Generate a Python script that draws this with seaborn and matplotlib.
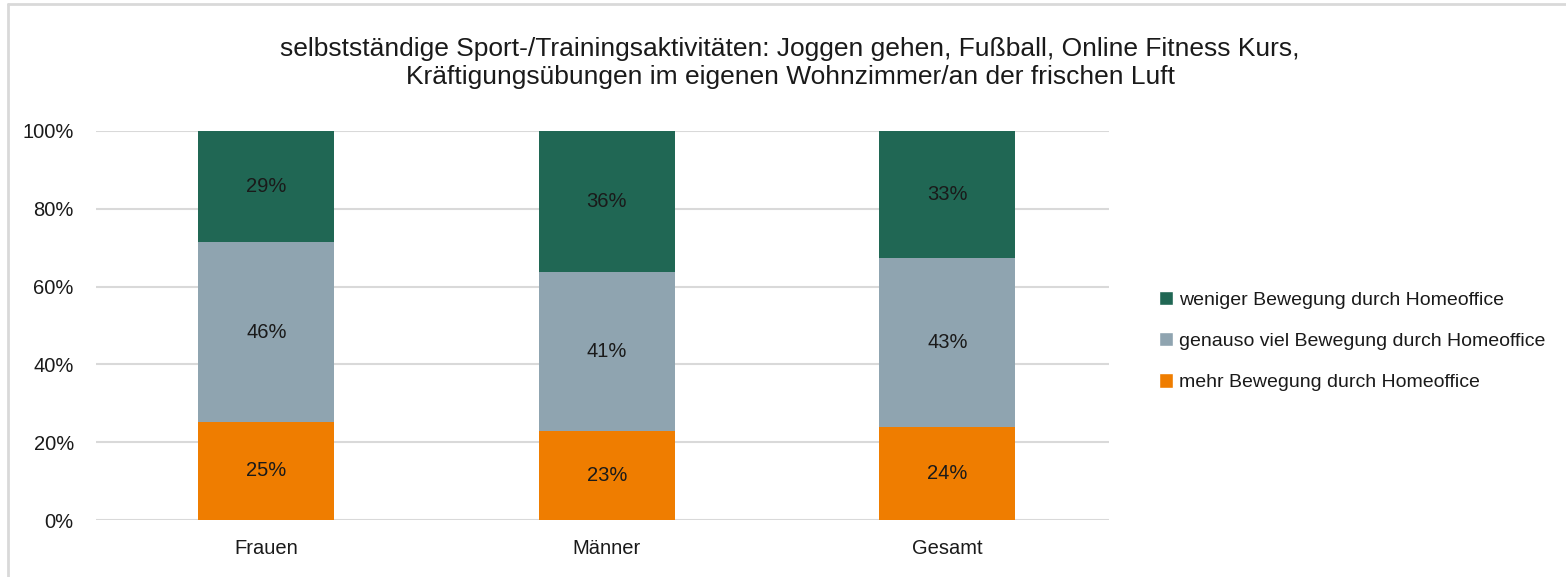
import numpy as np
import pandas as pd
import matplotlib
matplotlib.use("Agg")
import matplotlib.pyplot as plt
import seaborn as sns
from matplotlib.lines import Line2D
from matplotlib.patches import Patch

# Daten (Anteile in %)
gruppen = ["Frauen", "Männer", "Gesamt"]
mehr = [25.2, 22.9, 23.9]
genauso = [46.2, 40.9, 43.4]
weniger = [28.6, 36.2, 32.7]

serien = ["mehr Bewegung durch Homeoffice",
          "genauso viel Bewegung durch Homeoffice",
          "weniger Bewegung durch Homeoffice"]
farben = ["#EF7D00", "#8FA4B0", "#206754"]

df = pd.DataFrame({"gruppe": gruppen, serien[0]: mehr,
                   serien[1]: genauso, serien[2]: weniger})

sns.set_style("white")
plt.rcParams["font.family"] = ["Liberation Sans", "DejaVu Sans"]

fig = plt.figure(figsize=(15.66, 5.77), dpi=100)
ax = fig.add_axes([96 / 1566, 1 - 520 / 577, (1109 - 96) / 1566, (520 - 131) / 577])

unten = np.zeros(len(gruppen))
for s, c in zip(serien, farben):
    sns.barplot(data=df, x="gruppe", y=s, bottom=unten, color=c, width=0.4,
                saturation=1, ax=ax, zorder=3, linewidth=0)
    for i, v in enumerate(df[s]):
        ax.text(i, unten[i] + v / 2, f"{v:.0f}%", ha="center", va="center",
                fontsize=14.5, color="#1a1a1a", zorder=4)
    unten = unten + df[s].values

ax.set_ylim(0, 100)
ax.set_xlim(-0.5, 2.475)
ax.set_yticks(np.arange(0, 101, 20))
ax.set_yticklabels([f"{t}%" for t in range(0, 101, 20)])
ax.grid(axis="y", color="#d9d9d9", linewidth=1.5, zorder=0)
ax.set_axisbelow(True)
for sp in ax.spines.values():
    sp.set_visible(False)
ax.tick_params(axis="both", length=0, labelsize=14.5, colors="#1a1a1a")
ax.tick_params(axis="y", pad=16)
ax.tick_params(axis="x", pad=14)
ax.set_xlabel("")
ax.set_ylabel("")

fig.text(790 / 1566, 1 - 63 / 577,
         "selbstständige Sport-/Trainingsaktivitäten: Joggen gehen, Fußball, Online Fitness Kurs,\n"
         "Kräftigungsübungen im eigenen Wohnzimmer/an der frischen Luft",
         ha="center", va="center", fontsize=19, color="#1a1a1a", linespacing=1.2)

handles = [Patch(facecolor=c, label=s) for s, c in zip(serien, farben)][::-1]
fig.legend(handles=handles, loc="center left", bbox_to_anchor=(1141 / 1566, 1 - 341 / 577),
           frameon=False, fontsize=14, handlelength=0.75, handleheight=0.75,
           handletextpad=0.3, labelspacing=1.2, labelcolor="#1a1a1a")

# Rahmen
fig.add_artist(Line2D([8 / 1566, 8 / 1566], [0, 1 - 4 / 577], transform=fig.transFigure,
                      color="#d9d9d9", linewidth=2))
fig.add_artist(Line2D([8 / 1566, 1], [1 - 4 / 577, 1 - 4 / 577], transform=fig.transFigure,
                      color="#d9d9d9", linewidth=2))

fig.savefig("out.png", dpi=100)
